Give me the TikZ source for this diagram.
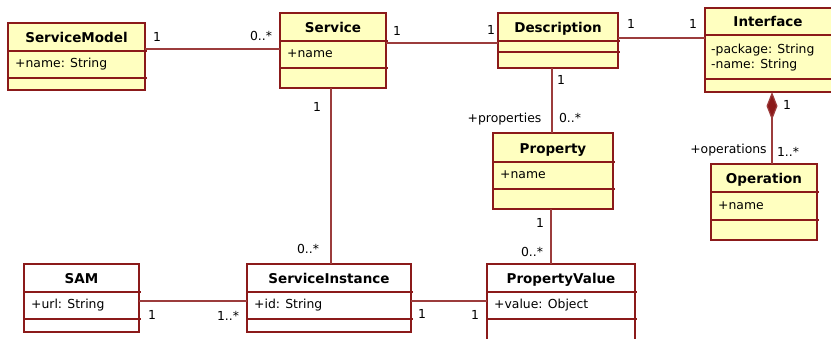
\documentclass[tikz,border=0pt]{standalone}
\usepackage{fontspec}
\setmainfont{DejaVu Sans}
\usetikzlibrary{arrows.meta}

\definecolor{umlred}{RGB}{139,26,26}
\definecolor{umlyellow}{RGB}{255,255,192}

\tikzset{
	classbox/.style={draw=umlred, line width=1.3pt, fill=umlyellow, inner sep=0pt, outer sep=0pt, anchor=north west},
	plainbox/.style={classbox, fill=white},
	divider/.style={draw=umlred, line width=1.2pt},
	assoc/.style={draw=umlred!85!white, line width=1.2pt},
	title/.style={font=\fontsize{13.5}{15}\selectfont\bfseries, inner sep=0pt, text height=9.8pt, text depth=0pt},
	attr/.style={font=\fontsize{12.4}{15}\selectfont, anchor=west, inner sep=0pt, align=left, text height=9pt, text depth=2.5pt},
	mult/.style={font=\fontsize{12.4}{15}\selectfont, inner sep=0pt, text height=9pt, text depth=2.5pt}
}

\begin{document}
\begin{tikzpicture}[x=1pt, y=-1pt]
	\useasboundingbox (0, 0) rectangle (831, 338);

	% classes, top row
	\node [classbox, minimum width=137pt, minimum height=67pt] (servicemodel) at (8, 23) {};
	\foreach \y in {51, 78} {
		\draw [divider] (8, \y) -- (147, \y);
	}
	\node [title] (servicemodeltitle) at (76.5, 37.5) {ServiceModel};
	\node [attr] (servicemodelname) at (15, 64.5) {+name: String};

	\node [classbox, minimum width=106pt, minimum height=75pt] (service) at (280, 13) {};
	\foreach \y in {41, 68} {
		\draw [divider] (280, \y) -- (388, \y);
	}
	\node [title] (servicetitle) at (333, 27.5) {Service};
	\node [attr] (servicename) at (287, 54.5) {+name};

	\node [classbox, minimum width=120pt, minimum height=55pt] (description) at (498, 13) {};
	\foreach \y in {41, 52} {
		\draw [divider] (498, \y) -- (620, \y);
	}
	\node [title] (descriptiontitle) at (558, 27.5) {Description};

	\node [classbox, minimum width=128pt, minimum height=84pt] (interface) at (705, 8) {};
	\foreach \y in {35, 79} {
		\draw [divider] (705, \y) -- (833, \y);
	}
	\node [title] (interfacetitle) at (768, 22) {Interface};
	\node [attr] (interfacepackage) at (711, 50) {-package: String};
	\node [attr] (interfacename) at (711, 65.5) {-name: String};

	% classes, middle row
	\node [classbox, minimum width=120pt, minimum height=76pt] (property) at (493, 133) {};
	\foreach \y in {162, 189} {
		\draw [divider] (493, \y) -- (615, \y);
	}
	\node [title] (propertytitle) at (553, 148.5) {Property};
	\node [attr] (propertyname) at (500, 175.5) {+name};

	\node [classbox, minimum width=106pt, minimum height=76pt] (operation) at (711, 164) {};
	\foreach \y in {192, 220} {
		\draw [divider] (711, \y) -- (819, \y);
	}
	\node [title] (operationtitle) at (764, 179) {Operation};
	\node [attr] (operationname) at (718, 206) {+name};

	% classes, bottom row
	\node [plainbox, minimum width=115pt, minimum height=68pt] (sam) at (24, 264) {};
	\foreach \y in {292, 319} {
		\draw [divider] (24, \y) -- (141, \y);
	}
	\node [title] (samtitle) at (81.5, 278.5) {SAM};
	\node [attr] (samurl) at (31, 305.5) {+url: String};

	\node [plainbox, minimum width=164pt, minimum height=68pt] (serviceinstance) at (247, 264) {};
	\foreach \y in {292, 319} {
		\draw [divider] (247, \y) -- (413, \y);
	}
	\node [title] (serviceinstancetitle) at (329, 278.5) {ServiceInstance};
	\node [attr] (serviceinstanceid) at (254, 305.5) {+id: String};

	\node [plainbox, minimum width=148pt, minimum height=84pt] (propertyvalue) at (487, 264) {};
	\foreach \y in {292, 319} {
		\draw [divider] (487, \y) -- (637, \y);
	}
	\node [title] (propertyvaluetitle) at (561, 278.5) {PropertyValue};
	\node [attr] (propertyvaluevalue) at (494, 305.5) {+value: Object};

	% associations
	\draw [assoc] (servicemodel.east |- 0, 49) -- (service.west |- 0, 49);
	\draw [assoc] (service.east |- 0, 43) -- (description.west |- 0, 43);
	\draw [assoc] (description.east |- 0, 38) -- (interface.west |- 0, 38);
	\draw [assoc] (description.south -| 552, 0) -- (property.north -| 552, 0);
	\draw [assoc] (service.south -| 331, 0) -- (serviceinstance.north -| 331, 0);
	\draw [assoc] (property.south -| 551, 0) -- (propertyvalue.north -| 551, 0);
	\draw [assoc] (sam.east |- 0, 301) -- (serviceinstance.west |- 0, 301);
	\draw [assoc] (serviceinstance.east |- 0, 301) -- (propertyvalue.west |- 0, 301);
	\draw [assoc, -{Diamond[length=28pt, width=11pt, fill=umlred]}] (operation.north -| 772, 0) -- (interface.south -| 772, 0);

	% multiplicities and roles
	\node [mult] (m1) at (157, 38) {1};
	\node [mult] (m2) at (261, 37) {0..*};
	\node [mult] (m3) at (397, 32) {1};
	\node [mult] (m4) at (491, 31) {1};
	\node [mult] (m5) at (631, 25) {1};
	\node [mult] (m6) at (693, 25) {1};
	\node [mult] (m7) at (561, 81) {1};
	\node [mult] (r1) at (504.5, 119) {+properties};
	\node [mult] (m8) at (570, 119) {0..*};
	\node [mult] (m9) at (787, 106) {1};
	\node [mult] (r2) at (728.5, 150) {+operations};
	\node [mult] (m10) at (788, 153) {1..*};
	\node [mult] (m11) at (317, 108) {1};
	\node [mult] (m12) at (308, 250) {0..*};
	\node [mult] (m13) at (540, 224) {1};
	\node [mult] (m14) at (532, 253) {0..*};
	\node [mult] (m15) at (152, 316) {1};
	\node [mult] (m16) at (228, 317) {1..*};
	\node [mult] (m17) at (422, 315) {1};
	\node [mult] (m18) at (475, 316) {1};
\end{tikzpicture}
\end{document}
